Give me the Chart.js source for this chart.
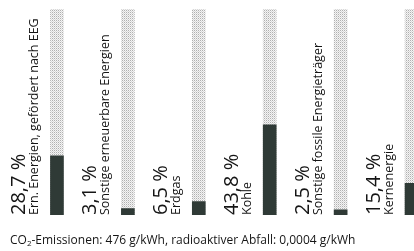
<!DOCTYPE html>
<html>
<head>
<meta charset="utf-8">
<script src="https://cdn.jsdelivr.net/npm/chart.js@4/dist/chart.umd.min.js"></script>
<style>
  html, body { margin: 0; padding: 0; background: #fff; overflow: hidden; }
</style>
</head>
<body>
<canvas id="strommix" width="450" height="251"></canvas>
<script>
// Stromkennzeichnung - Anteile der Energieträger
const kategorien = [
    'Ern. Energien, gefördert nach EEG',
    'Sonstige erneuerbare Energien',
    'Erdgas',
    'Kohle',
    'Sonstige fossile Energieträger',
    'Kernenergie'
];
const anteile = [28.7, 3.1, 6.5, 43.8, 2.5, 15.4];
const gesamt = [100, 100, 100, 100, 100, 100];
const fussnote = ['CO', '2', '-Emissionen: 476 g/kWh, radioaktiver Abfall: 0,0004 g/kWh'];

function punktMuster(){
    var c = document.createElement('canvas');
    c.width = 2; c.height = 2;
    var cx = c.getContext('2d');
    cx.fillStyle = '#f4f4f4';
    cx.fillRect(0, 0, 2, 2);
    cx.fillStyle = '#b0b0b0';
    cx.fillRect(0, 0, 1, 1);
    cx.fillStyle = '#d8d8d8';
    cx.fillRect(1, 1, 1, 1);
    return cx.createPattern(c, 'repeat');
}

function prozent(v){
    return v.toFixed(1).replace('.', ',') + ' %';
}

var beschriftung = {
    id: 'beschriftung',
    afterDatasetsDraw(chart){
        const { ctx, chartArea: { bottom } } = chart;
        const meta = chart.getDatasetMeta(0);
        ctx.save();
        ctx.fillStyle = '#151515';
        ctx.textAlign = 'left';
        ctx.textBaseline = 'alphabetic';
        meta.data.forEach(function(bar, i){
            var links = bar.x - bar.width / 2;
            ctx.save();
            ctx.translate(links - 25, bottom);
            ctx.rotate(-Math.PI / 2);
            ctx.font = '20px "Open Sans"';
            ctx.fillText(prozent(anteile[i]), 0, 0);
            ctx.restore();

            ctx.save();
            ctx.translate(links - 12, bottom);
            ctx.rotate(-Math.PI / 2);
            ctx.font = '12.5px "Open Sans"';
            ctx.fillText(kategorien[i], 0, 0);
            ctx.restore();
        });

        // Fussnote mit tiefgestellter 2
        var x = 10, y = 244;
        ctx.font = '12px "Open Sans"';
        ctx.fillText(fussnote[0], x, y);
        x += ctx.measureText(fussnote[0]).width;
        ctx.font = '8px "Open Sans"';
        ctx.fillText(fussnote[1], x, y + 2);
        x += ctx.measureText(fussnote[1]).width;
        ctx.font = '12px "Open Sans"';
        ctx.fillText(fussnote[2], x, y);
        ctx.restore();
    }
};

var config = {
    type: 'bar',
    data: {
        labels: kategorien,
        datasets: [{
            label: 'Anteil',
            data: anteile,
            backgroundColor: '#2f3a36',
            barThickness: 13,
            grouped: false,
            order: 0
        }, {
            label: 'Gesamt',
            data: gesamt,
            backgroundColor: punktMuster(),
            barThickness: 13,
            grouped: false,
            order: 1
        }]
    },
    options: {
        responsive: false,
        animation: false,
        layout: {
            padding: { left: 21.5, right: 3, top: 9, bottom: 36 }
        },
        scales: {
            x: { display: false },
            y: { display: false, min: 0, max: 100 }
        },
        plugins: {
            legend: { display: false },
            tooltip: { enabled: false }
        }
    },
    plugins: [beschriftung]
};

var myChart = new Chart(document.getElementById('strommix'), config);
</script>
</body>
</html>
